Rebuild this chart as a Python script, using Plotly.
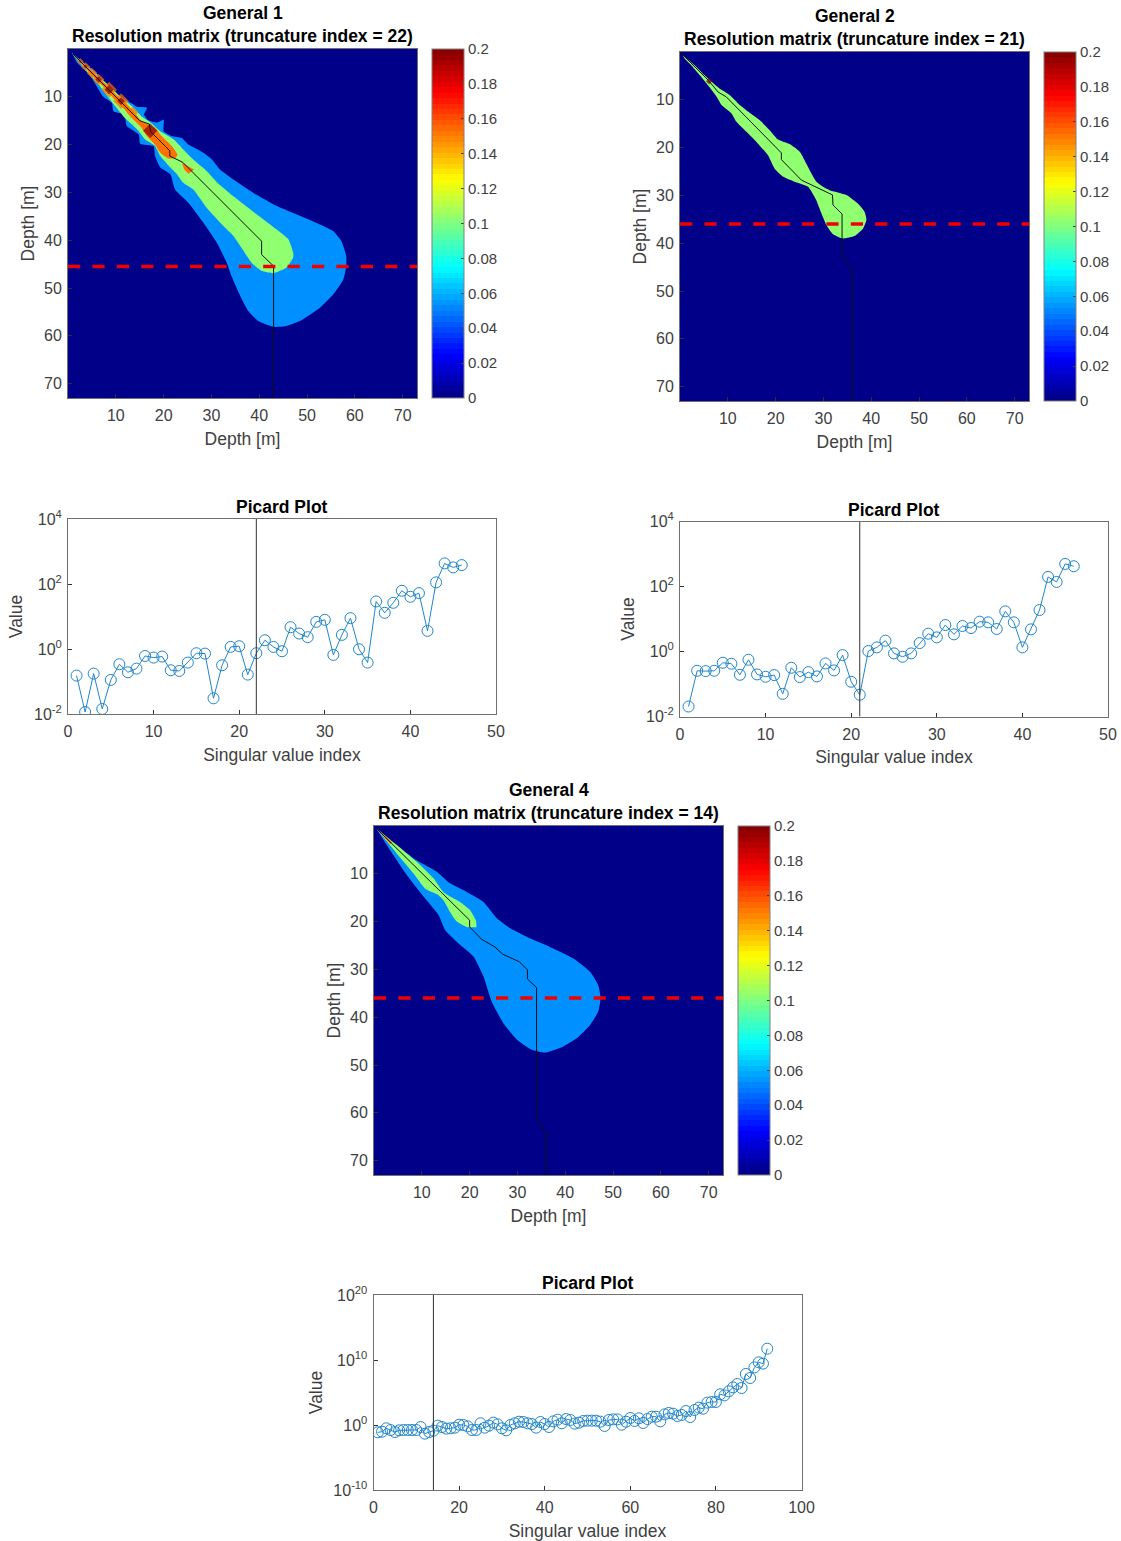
import plotly.graph_objects as go

W, H = 1121, 1541

# ---------- Picard plot data ----------
picard1_values = [0.152, 0.0115, 0.175, 0.0143, 0.112, 0.34, 0.192, 0.249, 0.61, 0.545, 0.585, 0.222, 0.211, 0.382,
                  0.741, 0.723, 0.0304, 0.316, 1.16, 1.22, 0.163, 0.741, 1.86, 1.16, 0.853, 4.69, 2.99, 2.31, 6.84,
                  7.89, 0.658, 2.72, 8.89, 0.984, 0.382, 29, 13, 26.4, 61.8, 40.4, 52.4, 3.61, 112, 430, 324, 382]
picard2_values = [0.0203, 0.255, 0.249, 0.255, 0.451, 0.42, 0.192, 0.557, 0.197, 0.167, 0.188, 0.0499, 0.316, 0.163,
                  0.232, 0.171, 0.43, 0.262, 0.776, 0.117, 0.0466, 1.03, 1.34, 2.15, 0.875, 0.69, 0.875, 1.82, 3.53,
                  2.72, 6.53, 3.37, 6.08, 5.27, 8.28, 7.89, 4.92, 17.2, 7.89, 1.34, 4.8, 18.9, 197, 138, 495, 420]
picard3_log10 = [-1.13, -1.03, -0.51, -0.77, -1.08, -0.82, -0.77, -0.77, -0.77, -0.77, -0.31, -1.33, -1.08, -0.87,
                 -0.10, -0.31, -0.56, -0.51, -0.41, 0.05, 0.0, -0.21, -0.77, -0.77, 0.26, -0.41, -0.10, 0.36, 0.10,
                 -0.51, -0.82, 0.0, 0.26, 0.51, 0.46, 0.26, 0.15, -0.41, 0.46, 0.15, -0.31, 0.56, 0.82, 0.26, 0.92,
                 0.77, 0.21, 0.36, 0.62, 0.67, 0.67, 0.67, 0.51, -0.15, 0.77, 0.87, 0.87, 0.05, 0.51, 1.08, 0.62,
                 1.03, 0.31, 0.92, 1.28, 1.28, 0.56, 1.64, 1.85, 1.74, 1.38, 1.54, 2.15, 1.23, 2.31, 2.67, 2.51,
                 3.44, 3.54, 3.54, 4.72, 4.56, 5.18, 5.79, 6.31, 5.69, 7.85, 7.23, 8.87, 9.64, 9.44, 11.74]

# ---------- Resolution-matrix data (outlines of the filled contour levels, in metres) ----------
g1_path_x = [1, 15, 17, 17.3, 21.3, 21.3, 24, 26, 40.5, 40.5, 43, 43]
g1_path_y = [1, 15, 15.7, 17.3, 21.3, 22.4, 23.7, 25.7, 40.2, 43, 45.4, 73]
g1_level05_x = [0.8, 3.3, 5.7, 8.1, 9.9, 12, 13.4, 14.4, 16.5, 15.9, 16.8, 18.6, 20, 20, 21.7, 23.8, 25.2, 28.3, 30.1,
                31.8, 34.6, 38.8, 43.6, 48.5, 52.7, 55.5, 57.2, 58.2, 58.2, 57.6, 55.5, 52.7, 48.5, 45.4, 42.9, 39.8,
                37.7, 36, 34.2, 33.2, 31.1, 28.3, 25.2, 22.4, 21.4, 19.3, 18.2, 17.9, 15.1, 14.8, 12.3, 11.8, 9.5, 9.2,
                7.4, 4.7, 1.9]
g1_level05_y = [0.8, 2.9, 4.7, 7.7, 9.2, 10.6, 11.4, 12.1, 12.3, 13.7, 14.9, 15.4, 14.8, 17.2, 18.2, 18.6, 20, 21.7,
                23.1, 25.2, 27.3, 30.1, 32.8, 34.9, 36.7, 38.1, 40.2, 43.3, 45.4, 48.2, 51.3, 54.1, 56.9, 58, 58.1,
                56.9, 54.8, 51.6, 47.5, 44.7, 40.5, 36.3, 32.2, 29.4, 26.2, 24.8, 22.4, 20.3, 19.8, 17.9, 16.1, 13.7,
                13, 11.3, 10, 5.7, 2.9]
g1_level10_x = [0.8, 3.6, 6.1, 8.8, 10.9, 13.4, 15.4, 17.2, 19.3, 22.1, 23.8, 26.2, 29, 31.2, 34.6, 39.5, 43.6, 46.1,
                47.1, 47.1, 45.7, 42.9, 40.5, 38.4, 36.7, 34.6, 32.2, 29, 26.2, 24.1, 22.8, 21.4, 19.3, 18.2, 16.1,
                14.8, 13.4, 11.6, 9.9, 8.5, 6.4, 4, 1.9]
g1_level10_y = [0.8, 3.3, 5.4, 7.9, 9.9, 12, 14.1, 15.3, 17.2, 18.9, 20.7, 23.1, 25.5, 27.9, 30.8, 34.6, 37.7, 39.8,
                42.6, 43.6, 45.7, 46.9, 46.4, 44.7, 42.2, 39.1, 36.7, 33.2, 29.4, 28, 26.2, 24.8, 22.4, 20.3, 18.9,
                17.2, 15.8, 14.1, 12, 10.2, 7.4, 4.7, 2.2]
g1_level15a_x = [1.2, 5, 7, 9.5, 12, 14.5, 15.4, 18.2, 19.6, 21.7, 22.9, 22.4, 21, 19.3, 18.2, 16.5, 15.4, 13.4, 11.6,
                 9.5, 7.8, 5.7, 3.6, 1.5]
g1_level15a_y = [1.2, 4.6, 6.5, 9, 11.2, 14, 15.1, 16.5, 18.2, 20.3, 22.1, 22.8, 22.9, 21.7, 20, 18.2, 16.5, 14.5,
                 12.4, 10.3, 8.3, 6.3, 3.9, 1.7]
g1_level15b_x = [23.8, 26.4, 25.2, 24.3]
g1_level15b_y = [23.8, 25.2, 26.1, 25.2]
g1_bead_x = [2.6, 3.7, 5, 6.4, 8.6, 11.1, 13.5]
g1_bead_y = [2.6, 3.7, 5, 6.4, 8.5, 10.9, 13.3]
g1_peak_x = [17.2, 11.1, 8.6, 6.4, 3.7, 2.6]
g1_peak_y = [17.1, 10.9, 8.5, 6.4, 3.7, 2.6]

g2_path_x = [0, 5.9, 8, 9.7, 21.2, 21.2, 25.4, 31.9, 32, 33.9, 33.9, 36, 36]
g2_path_y = [0, 5.9, 8.4, 9.4, 21.1, 22.5, 26.8, 29.9, 32, 33.9, 42.8, 45.4, 73]
g2_level10_x = [0.5, 3.1, 5.2, 8, 10.4, 12.2, 14.3, 16.7, 18.8, 20.5, 23, 25.1, 26.4, 27.5, 28.5, 29.9, 31.3, 34.8,
                37.2, 38.6, 39, 38.3, 36.5, 34.1, 32, 30.6, 29.6, 28.5, 26.8, 24.4, 21.6, 19.8, 18.4, 16, 13.9, 11.8,
                10.8, 8.7, 7.7, 5.9, 4.2, 2.4, 1]
g2_level10_y = [0.5, 2.8, 4.9, 7.4, 9, 10.8, 12.5, 14.3, 16.4, 18.3, 19.3, 20.9, 23.3, 25.4, 27.1, 28.2, 28.9, 29.9,
                31.7, 33.4, 35.1, 36.9, 38.5, 39, 38.1, 36.2, 33.8, 31, 28.2, 27.3, 26.1, 24.4, 21.6, 18.8, 16.7, 14.6,
                12.9, 11.1, 9.4, 7, 4.9, 2.8, 1.4]
g2_peak_x = [6.1]
g2_peak_y = [6.1]

g4_path_x = [0.4, 20, 20, 22.5, 25.3, 26.9, 30.4, 32.1, 32.1, 34, 34, 36, 36]
g4_path_y = [0.4, 19.7, 21.1, 23.7, 25.3, 26.8, 28.4, 30.1, 32, 33.8, 60.9, 64.4, 73]
g4_level05_x = [0.4, 4.1, 9, 13.2, 15.9, 19.4, 22.9, 25.7, 28.5, 32.6, 36.8, 41.7, 45.2, 46.9, 47.4, 46.9, 45.2, 42.4,
                39.6, 35.8, 33, 29.9, 27.1, 24.6, 22.9, 20.8, 17.3, 14.9, 13.5, 10.4, 6.9, 3.4]
g4_level05_y = [0.4, 3.7, 7.2, 9.6, 12, 13.8, 15.9, 19.3, 21.4, 23.5, 25.3, 27.7, 30.5, 33.3, 36, 38.8, 41.6, 44.4,
                46.1, 47.4, 46.8, 44.7, 41.3, 36.7, 31.5, 27.3, 24.2, 21.8, 18.6, 14.8, 10.3, 5.1]
g4_level10_x = [0.4, 4.8, 9.7, 12.5, 14.5, 18, 20.1, 21.3, 21.4, 19.4, 17.3, 15.9, 14.5, 13.2, 10.7, 8.3, 6.2, 3.1]
g4_level10_y = [0.4, 4, 8.2, 11, 13.8, 15.9, 17.6, 19.7, 21.1, 21.1, 20, 18, 15.5, 14.3, 13.1, 10, 7.5, 3.7]
g4_level15_x = [0.4, 3.8, 3.4]
g4_level15_y = [0.4, 3.4, 3.8]

cbar_ticks = [0, 0.02, 0.04, 0.06, 0.08, 0.1, 0.12, 0.14, 0.16, 0.18, 0.2]
depth_ticks = [10, 20, 30, 40, 50, 60, 70]
zero_field = [[0, 0], [0, 0]]
truncation = {"g1": 22, "g2": 21, "g4": 14}
cutoff_depth = {"g1": 45.5, "g2": 36, "g4": 36}

# ---------- Style ----------
FONT = "Liberation Sans"
TXT = "#404040"
AXC = "#707070"
BLUE = "#0090FF"
GREEN = "#90FF70"
ORANGE = "#FF7000"
DARKRED = "#800000"
LINEC = "#2186C9"
TITLE_SIZE = 17.5
LABEL_SIZE = 17.5
TICK_SIZE = 16


def jet_scale(n=64):
    anchors = [(0, (0, 0, 128)), (1 / 8, (0, 0, 255)), (3 / 8, (0, 255, 255)), (5 / 8, (255, 255, 0)),
               (7 / 8, (255, 0, 0)), (1, (128, 0, 0))]
    out = []
    for i in range(n):
        t = (i + 0.5) / n
        for (a, ca), (b, cb) in zip(anchors, anchors[1:]):
            if a <= t <= b:
                f = (t - a) / (b - a)
                c = [round(p + (q - p) * f) for p, q in zip(ca, cb)]
                break
        s = f"rgb({c[0]},{c[1]},{c[2]})"
        out += [[i / n, s], [(i + 1) / n, s]]
    return out


JET = jet_scale()


def xdom(a, b):
    return [a / W, b / W]


def ydom(top, bottom):
    return [1 - bottom / H, 1 - top / H]


fig = go.Figure()
layout = dict(width=W, height=H, margin=dict(l=0, r=0, t=0, b=0, autoexpand=False), paper_bgcolor="white",
              plot_bgcolor="white", template="none", showlegend=False, font=dict(family=FONT, color=TXT, size=15))
annotations = []
axis_no = [0]


def new_axes(left, right, top, bottom, xcfg, ycfg):
    axis_no[0] += 1
    n = axis_no[0]
    sfx = "" if n == 1 else str(n)
    common = dict(showline=True, mirror=True, linecolor=AXC, linewidth=1, ticks="inside", ticklen=4, automargin=False,
                  tickcolor="#303030", showgrid=False, zeroline=False,
                  tickfont=dict(size=TICK_SIZE, color=TXT, family=FONT))
    layout["xaxis" + sfx] = dict(common, domain=xdom(left, right), anchor="y" + sfx, ticklabelstandoff=3, **xcfg)
    layout["yaxis" + sfx] = dict(common, domain=ydom(top, bottom), anchor="x" + sfx, ticklabelstandoff=2, **ycfg)
    return "x" + sfx, "y" + sfx


def add_title(lines, cx, ys):
    for line, y in zip(lines, ys):
        annotations.append(dict(text=f"<b>{line}</b>", x=cx / W, y=1 - y / H, xref="paper", yref="paper",
                                xanchor="center", yanchor="middle", showarrow=False,
                                font=dict(size=TITLE_SIZE, color="black", family=FONT)))


def blob(xa, ya, x, y, color, spline=True):
    fig.add_trace(go.Scatter(x=x, y=y, xaxis=xa, yaxis=ya, mode="lines", fill="toself", fillcolor=color,
                             line=dict(width=0, color=color, shape="spline" if spline else "linear", smoothing=0.5),
                             hoverinfo="skip"))


def markers(xa, ya, x, y, color, sizes):
    fig.add_trace(go.Scatter(x=x, y=y, xaxis=xa, yaxis=ya, mode="markers", hoverinfo="skip",
                             marker=dict(symbol="diamond", color=color, size=sizes, line=dict(width=0))))


def resolution_panel(left, top, title, level_traces, path_x, path_y, cutoff, beads=None, peaks=None):
    size = 349
    right, bottom = left + size, top + size
    cx = (left + right) / 2
    xa, ya = new_axes(left, right, top, bottom,
                      dict(range=[0, 73], tickvals=depth_ticks,
                           title=dict(text="Depth [m]", font=dict(size=LABEL_SIZE, color=TXT, family=FONT), standoff=9)),
                      dict(range=[73, 0], tickvals=depth_ticks,
                           title=dict(text="Depth [m]", font=dict(size=LABEL_SIZE, color=TXT, family=FONT), standoff=4)))
    fig.add_trace(go.Heatmap(x=[0, 73], y=[0, 73], z=zero_field, xaxis=xa, yaxis=ya, zmin=0, zmax=0.2, colorscale=JET,
                             hoverinfo="skip",
                             colorbar=dict(x=(right + 15) / W, xanchor="left", xpad=0, ypad=0, y=1 - top / H,
                                           yanchor="top", len=size, lenmode="pixels", thickness=32,
                                           thicknessmode="pixels", outlinecolor="#808080", outlinewidth=1,
                                           ticks="inside", ticklen=3, tickcolor="#404040", tickvals=cbar_ticks,
                                           tickfont=dict(size=15, color=TXT, family=FONT))))
    for x, y, c in level_traces:
        blob(xa, ya, x, y, c, spline=len(x) > 4)
    if beads:
        markers(xa, ya, beads[0], beads[1], ORANGE, beads[2])
    if peaks:
        markers(xa, ya, peaks[0], peaks[1], DARKRED, peaks[2])
    fig.add_trace(go.Scatter(x=path_x, y=path_y, xaxis=xa, yaxis=ya, mode="lines", hoverinfo="skip",
                             line=dict(color="#101010", width=1)))
    fig.add_trace(go.Scatter(x=[0, 73], y=[cutoff, cutoff], xaxis=xa, yaxis=ya, mode="lines", hoverinfo="skip",
                             line=dict(color="#F00000", width=3.5, dash="12.2px,12.2px")))
    add_title(title, cx, [top - 36, top - 13])


def picard_panel(left, top, values, trunc, xmax, xticks, yrange, yticks, yticktext):
    right, bottom = left + 428, top + 195
    cx = (left + right) / 2
    xa, ya = new_axes(left, right, top, bottom,
                      dict(range=[0, xmax], tickvals=xticks,
                           title=dict(text="Singular value index", font=dict(size=LABEL_SIZE, color=TXT, family=FONT),
                                      standoff=9)),
                      dict(type="log", range=yrange, tickvals=yticks, ticktext=yticktext,
                           title=dict(text="Value", font=dict(size=LABEL_SIZE, color=TXT, family=FONT), standoff=6)))
    fig.add_trace(go.Scatter(x=list(range(1, len(values) + 1)), y=values, xaxis=xa, yaxis=ya, mode="lines+markers",
                             line=dict(color=LINEC, width=1), hoverinfo="skip",
                             marker=dict(symbol="circle-open", size=11, color=LINEC, line=dict(width=1, color=LINEC))))
    fig.add_trace(go.Scatter(x=[trunc, trunc], y=[10.0 ** yrange[0], 10.0 ** yrange[1]], xaxis=xa, yaxis=ya,
                             mode="lines", hoverinfo="skip", line=dict(color="#303030", width=1)))
    add_title(["Picard Plot"], cx, [top - 12])


resolution_panel(68, 49, ["General 1", "Resolution matrix (truncature index = 22)"],
                 [(g1_level05_x, g1_level05_y, BLUE), (g1_level10_x, g1_level10_y, GREEN),
                  (g1_level15a_x, g1_level15a_y, ORANGE), (g1_level15b_x, g1_level15b_y, ORANGE)],
                 g1_path_x, g1_path_y, cutoff_depth["g1"],
                 beads=(g1_bead_x, g1_bead_y, [5, 7, 8, 9, 12, 12, 9]),
                 peaks=(g1_peak_x, g1_peak_y, [11, 6, 7, 5, 3, 2]))
resolution_panel(680, 52, ["General 2", "Resolution matrix (truncature index = 21)"],
                 [(g2_level10_x, g2_level10_y, GREEN)],
                 g2_path_x, g2_path_y, cutoff_depth["g2"], peaks=(g2_peak_x, g2_peak_y, [5]))
resolution_panel(374, 826, ["General 4", "Resolution matrix (truncature index = 14)"],
                 [(g4_level05_x, g4_level05_y, BLUE), (g4_level10_x, g4_level10_y, GREEN),
                  (g4_level15_x, g4_level15_y, ORANGE)],
                 g4_path_x, g4_path_y, cutoff_depth["g4"])

ticks_small = [1e-2, 1, 1e2, 1e4]
text_small = ["10<sup>-2</sup>", "10<sup>0</sup>", "10<sup>2</sup>", "10<sup>4</sup>"]
ticks_wide = [1e-10, 1, 1e10, 1e20]
text_wide = ["10<sup>-10</sup>", "10<sup>0</sup>", "10<sup>10</sup>", "10<sup>20</sup>"]
picard_panel(68, 519, picard1_values, truncation["g1"], 50, [0, 10, 20, 30, 40, 50], [-2, 4], ticks_small, text_small)
picard_panel(680, 521.5, picard2_values, truncation["g2"], 50, [0, 10, 20, 30, 40, 50], [-2, 4], ticks_small, text_small)
picard_panel(373.5, 1295, [10.0 ** v for v in picard3_log10], truncation["g4"], 100, [0, 20, 40, 60, 80, 100], [-10, 20],
             ticks_wide, text_wide)

layout["annotations"] = annotations
fig.update_layout(**layout)
fig.write_html("out.html", config=dict(displayModeBar=False),
               post_script="document.body.style.margin='0';document.documentElement.style.overflow='hidden';")
